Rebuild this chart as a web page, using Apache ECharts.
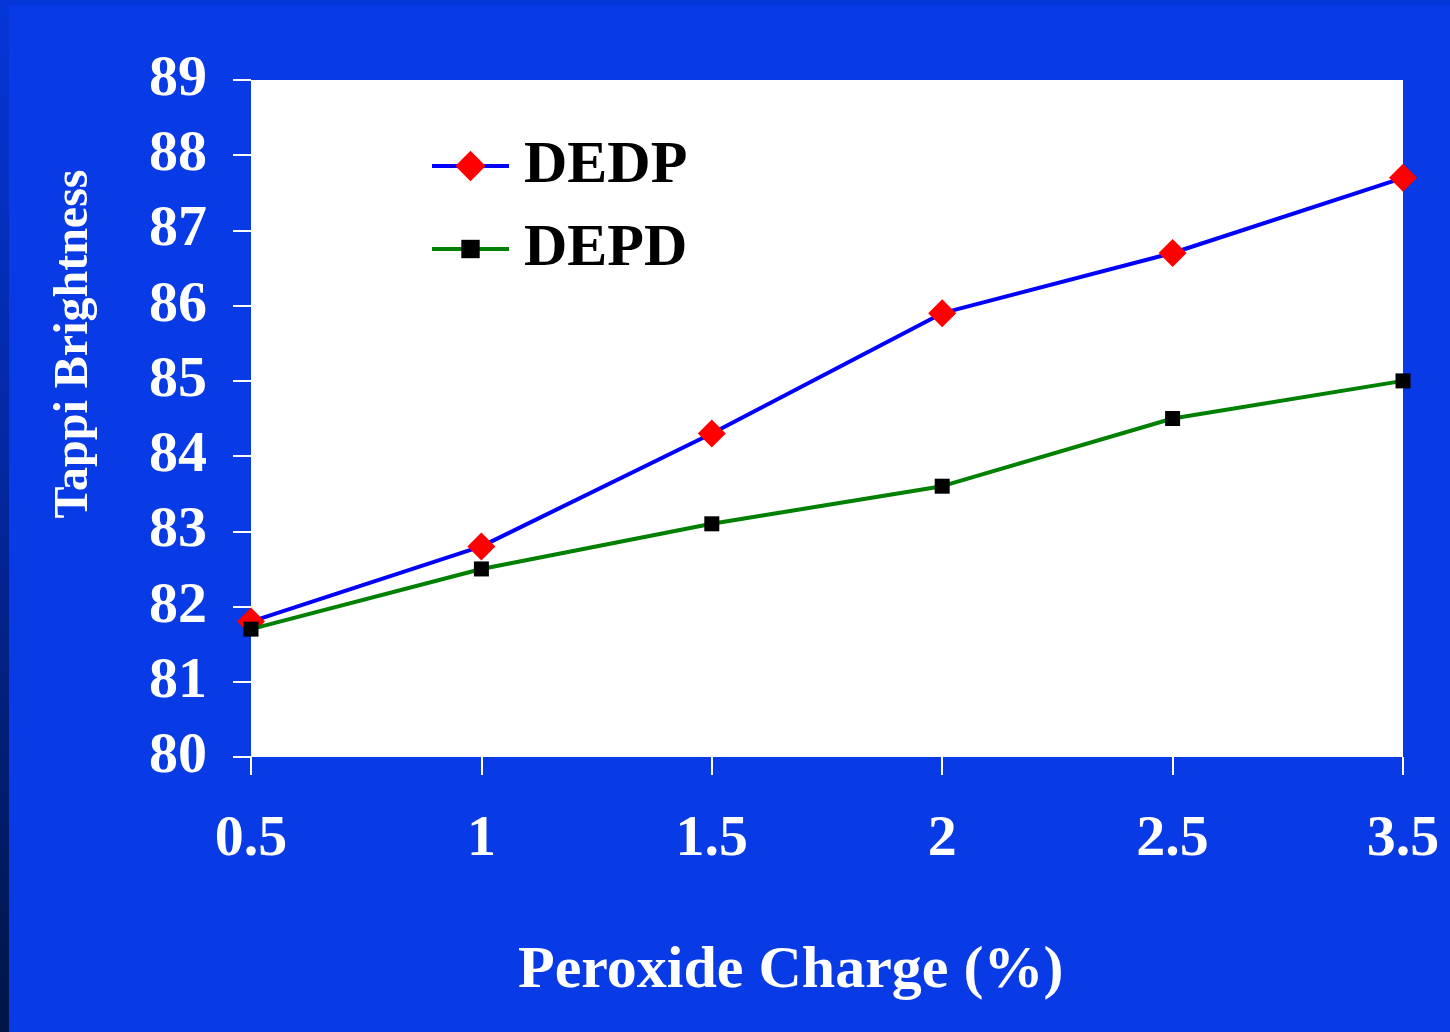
<!DOCTYPE html>
<html>
<head>
<meta charset="utf-8">
<script src="https://cdn.jsdelivr.net/npm/echarts@6/dist/echarts.min.js"></script>
<style>
  html, body { margin: 0; padding: 0; background: #083ae6; }
  #chart { width: 1450px; height: 1032px; }
</style>
</head>
<body>
<div id="chart"></div>
<script>
// Peroxide charge levels (%) along the x axis
const charges = ['0.5', '1', '1.5', '2', '2.5', '3.5'];
// Tappi brightness for each bleaching sequence
const dedp = [81.8, 82.8, 84.3, 85.9, 86.7, 87.7];
const depd = [81.7, 82.5, 83.1, 83.6, 84.5, 85.0];

const serif = '"Liberation Serif", "Times New Roman", serif';

// Shared look of the two legend entries; each gets its own legend so the
// marker sizes can follow the series markers.
function legendEntry(name, top, itemHeight) {
  return {
    orient: 'vertical', left: 430, top: top, padding: 0,
    itemWidth: 77, itemHeight: itemHeight,
    lineStyle: { width: 4 },
    textStyle: {
      fontFamily: serif, fontWeight: 'bold', fontSize: 60,
      color: '#000000', lineHeight: 60, padding: [0, 0, 0, 10]
    },
    data: [name]
  };
}

const chart = echarts.init(document.getElementById('chart'));
chart.setOption({
  backgroundColor: '#083ae6',
  animation: false,
  grid: {
    left: 251, right: 47, top: 80, bottom: 275,
    show: true, backgroundColor: '#ffffff', borderWidth: 0
  },
  graphic: [
    {
      type: 'rect', left: 0, top: 0, z: -1,
      shape: { width: 1450, height: 5 },
      style: { fill: '#0536d8' }
    },
    {
      type: 'rect', left: 0, top: 0, z: -1,
      shape: { width: 9, height: 1032 },
      style: {
        fill: new echarts.graphic.LinearGradient(0, 0, 0, 1, [
          { offset: 0, color: '#0536d8' },
          { offset: 0.5, color: '#03269a' },
          { offset: 1, color: '#001545' }
        ])
      }
    },
    {
      type: 'text', x: 518, y: 971,
      style: {
        text: 'Peroxide Charge (%)', fill: '#ffffff',
        font: 'bold 60px ' + serif, verticalAlign: 'middle', align: 'left'
      }
    },
    {
      type: 'text', x: 75, y: 344, rotation: Math.PI / 2,
      style: {
        text: 'Tappi Brightness', fill: '#ffffff',
        font: 'bold 48px ' + serif, verticalAlign: 'middle', align: 'center'
      }
    }
  ],
  legend: [
    legendEntry('DEDP', 136, 38),
    legendEntry('DEPD', 219, 23)
  ],
  xAxis: {
    type: 'category', data: charges, boundaryGap: false,
    axisLine: { show: false },
    axisTick: { show: true, length: 18, inside: false, alignWithLabel: true,
      lineStyle: { color: '#ffffff', width: 2 } },
    axisLabel: {
      color: '#ffffff', fontFamily: serif, fontWeight: 'bold', fontSize: 58,
      margin: 54, interval: 0
    },
    splitLine: { show: false }
  },
  yAxis: {
    type: 'value', min: 80, max: 89, interval: 1,
    axisLine: { show: false },
    axisTick: { show: true, length: 18, lineStyle: { color: '#ffffff', width: 2 } },
    axisLabel: {
      color: '#ffffff', fontFamily: serif, fontWeight: 'bold', fontSize: 58,
      margin: 44
    },
    splitLine: { show: false }
  },
  series: [
    {
      name: 'DEDP', type: 'line', data: dedp,
      symbol: 'diamond', symbolSize: 28,
      lineStyle: { color: '#0000ff', width: 4 },
      itemStyle: { color: '#ff0000', borderWidth: 0 },
      z: 2
    },
    {
      name: 'DEPD', type: 'line', data: depd,
      symbol: 'rect', symbolSize: 15,
      lineStyle: { color: '#008000', width: 4 },
      itemStyle: { color: '#000000', borderWidth: 0 },
      z: 3
    }
  ]
});
</script>
</body>
</html>
